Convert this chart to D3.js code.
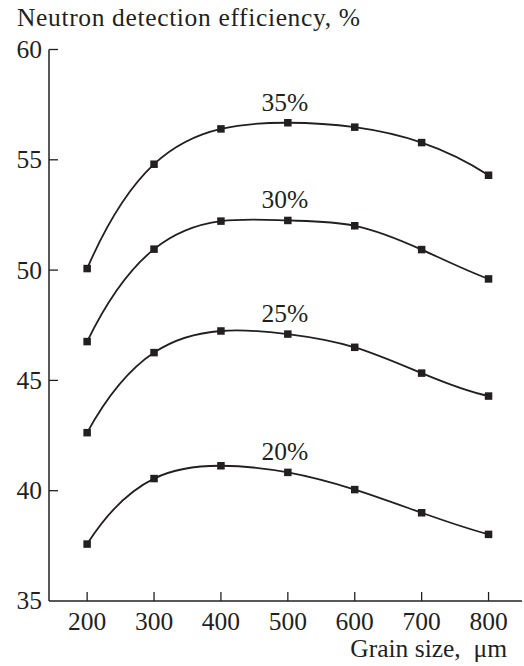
<!DOCTYPE html>
<html>
<head>
<meta charset="utf-8">
<script src="https://cdn.jsdelivr.net/npm/d3@7"></script>
<style>
  html, body { margin: 0; padding: 0; background: #fff; }
</style>
</head>
<body>
<svg id="chart" width="524" height="666"></svg>
<script>
const grainSizes = [200, 300, 400, 500, 600, 700, 800];
const seriesLabels = ["35%", "30%", "25%", "20%"];
const eff35 = [50.07, 54.8, 56.4, 56.68, 56.48, 55.78, 54.3];
const eff30 = [46.76, 50.95, 52.22, 52.25, 52.01, 50.93, 49.6];
const eff25 = [42.63, 46.26, 47.24, 47.1, 46.5, 45.33, 44.29];
const eff20 = [37.58, 40.55, 41.13, 40.83, 40.05, 39.0, 38.02];
const yTicks = [35, 40, 45, 50, 55, 60];
const xTicks = [200, 300, 400, 500, 600, 700, 800];

const seriesValues = [eff35, eff30, eff25, eff20];

const ink = "#231f20";
const fontSize = 25.5;
const serif = "'Liberation Serif', 'Times New Roman', Tinos, 'DejaVu Serif', serif";
const svg = d3.select("#chart")
  .attr("font-family", serif)
  .style("font-family", serif);
const x = d3.scaleLinear().domain([143, 850]).range([49, 522]);
const y = d3.scaleLinear().domain([35, 60]).range([601, 49.5]);

// cubic spline through the points, "not-a-knot" ends, evenly spaced x
function SplineCurve(context) {
  this._context = context;
}
SplineCurve.prototype = {
  areaStart() {},
  areaEnd() {},
  lineStart() {
    this._x = [];
    this._y = [];
  },
  point(px, py) {
    this._x.push(+px);
    this._y.push(+py);
  },
  lineEnd() {
    const xs = this._x, ys = this._y, n = xs.length - 1, ctx = this._context;
    if (n < 0) return;
    ctx.moveTo(xs[0], ys[0]);
    if (n < 4) {
      for (let i = 1; i <= n; i++) ctx.lineTo(xs[i], ys[i]);
      return;
    }
    const h = (xs[n] - xs[0]) / n;
    const rhs = [];
    for (let i = 1; i < n; i++) rhs[i] = (6 * (ys[i + 1] - 2 * ys[i] + ys[i - 1])) / (h * h);
    const M = new Array(n + 1).fill(0);
    M[1] = rhs[1] / 6;
    M[n - 1] = rhs[n - 1] / 6;
    // Thomas algorithm for M[2..n-2]
    const c = [], d = [];
    for (let i = 2; i <= n - 2; i++) {
      let di = rhs[i];
      if (i === 2) di -= M[1];
      if (i === n - 2) di -= M[n - 1];
      const cPrev = i === 2 ? 0 : c[i - 1];
      const dPrev = i === 2 ? 0 : d[i - 1];
      const denom = 4 - cPrev;
      c[i] = i === n - 2 ? 0 : 1 / denom;
      d[i] = (di - dPrev) / denom;
    }
    for (let i = n - 2; i >= 2; i--) {
      M[i] = d[i] - (i === n - 2 ? 0 : c[i] * M[i + 1]);
    }
    M[0] = 2 * M[1] - M[2];
    M[n] = 2 * M[n - 1] - M[n - 2];
    for (let i = 0; i < n; i++) {
      const s = (ys[i + 1] - ys[i]) / h;
      const m0 = s - (h * (2 * M[i] + M[i + 1])) / 6;
      const m1 = s + (h * (M[i] + 2 * M[i + 1])) / 6;
      ctx.bezierCurveTo(
        xs[i] + h / 3, ys[i] + (m0 * h) / 3,
        xs[i + 1] - h / 3, ys[i + 1] - (m1 * h) / 3,
        xs[i + 1], ys[i + 1]
      );
    }
  },
};

// axes lines
svg.append("line")
  .attr("x1", x(143)).attr("x2", x(143))
  .attr("y1", y(60)).attr("y2", y(35))
  .attr("stroke", ink).attr("stroke-width", 1.5);
svg.append("line")
  .attr("x1", x(143)).attr("x2", x(850))
  .attr("y1", y(35)).attr("y2", y(35))
  .attr("stroke", ink).attr("stroke-width", 1.5);

// y ticks point inwards
svg.selectAll(".ytick")
  .data(yTicks.filter((d) => d > 35))
  .join("line")
  .attr("x1", x(143)).attr("x2", x(143) + 9)
  .attr("y1", (d) => y(d)).attr("y2", (d) => y(d))
  .attr("stroke", ink).attr("stroke-width", 1.3);

svg.selectAll(".ylab")
  .data(yTicks)
  .join("text")
  .attr("x", 42)
  .attr("y", (d) => y(d))
  .attr("dy", "0.33em")
  .attr("text-anchor", "end")
  .attr("font-size", fontSize)
  .attr("fill", ink)
  .text((d) => d);

svg.selectAll(".xtick")
  .data(xTicks)
  .join("line")
  .attr("x1", (d) => x(d)).attr("x2", (d) => x(d))
  .attr("y1", y(35)).attr("y2", y(35) - 9)
  .attr("stroke", ink).attr("stroke-width", 1.3);

svg.selectAll(".xlab")
  .data(xTicks)
  .join("text")
  .attr("x", (d) => x(d))
  .attr("y", 630)
  .attr("text-anchor", "middle")
  .attr("font-size", fontSize)
  .attr("fill", ink)
  .text((d) => d);

svg.append("text")
  .attr("x", 17).attr("y", 26)
  .attr("font-size", fontSize)
  .attr("fill", ink)
  .attr("textLength", 343)
  .text("Neutron detection efficiency, %");

svg.append("text")
  .attr("x", 507).attr("y", 657)
  .attr("text-anchor", "end")
  .attr("font-size", fontSize)
  .attr("fill", ink)
  .attr("xml:space", "preserve")
  .text("Grain size,  \u03bcm");

const line = d3.line()
  .x((d) => x(d.size))
  .y((d) => y(d.value))
  .curve((ctx) => new SplineCurve(ctx));

seriesValues.forEach((values, i) => {
  const pts = grainSizes.map((size, j) => ({ size, value: values[j] }));
  const g = svg.append("g");

  g.append("path")
    .attr("d", line(pts))
    .attr("fill", "none")
    .attr("stroke", ink)
    .attr("stroke-width", 1.8);

  g.selectAll("rect")
    .data(pts)
    .join("rect")
    .attr("x", (d) => x(d.size) - 3.75)
    .attr("y", (d) => y(d.value) - 3.75)
    .attr("width", 7.5)
    .attr("height", 7.5)
    .attr("fill", ink);

  g.append("text")
    .attr("x", x(500) - 3)
    .attr("y", y(values[3]) - 12)
    .attr("text-anchor", "middle")
    .attr("font-size", fontSize)
    .attr("fill", ink)
    .text(seriesLabels[i]);
});
</script>
</body>
</html>
